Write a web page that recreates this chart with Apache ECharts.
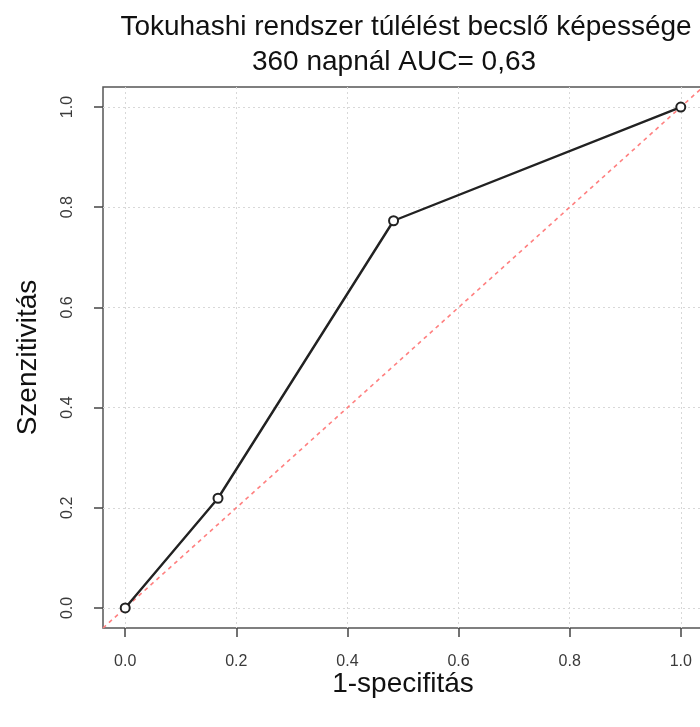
<!DOCTYPE html>
<html>
<head>
<meta charset="utf-8">
<script src="https://cdn.jsdelivr.net/npm/echarts@6/dist/echarts.min.js"></script>
<style>
  html, body { margin: 0; padding: 0; background: #fff; overflow: hidden; }
  /* canvas is slightly wider than the window so the right frame edge falls just outside */
  #chart { width: 704px; height: 727px; }
</style>
</head>
<body>
<div id="chart"></div>
<script>
// ROC curve points: 1-specificity (x) and sensitivity (y)
const fpr = [0.0, 0.167, 0.483, 1.0];
const tpr = [0.0, 0.219, 0.773, 1.0];
// Tick positions shared by both axes
const tickValues = [0.0, 0.2, 0.4, 0.6, 0.8, 1.0];
// Axis range with R-style 4% padding
const axisMin = -0.04;
const axisMax = 1.04;
// Reference diagonal (chance line) endpoints
const chanceLine = [axisMin, axisMax];

const titleMain = 'Tokuhashi rendszer túlélést becslő képessége';
const titleSub = '360 napnál AUC= 0,63';
const xName = '1-specifitás';
const yName = 'Szenzitivitás';

const chart = echarts.init(document.getElementById('chart'), null, { renderer: 'canvas' });

const fontFamily = '"Liberation Sans", Arial, sans-serif';
const titleStyle = {
  color: '#111',
  fontSize: 28,
  fontWeight: 'normal',
  fontFamily: fontFamily
};

function axisCommon() {
  return {
    type: 'value',
    min: axisMin,
    max: axisMax,
    axisLine: { show: false, onZero: false },
    axisTick: {
      show: true,
      inside: false,
      length: 9,
      customValues: tickValues,
      lineStyle: { color: '#444', width: 1.5 }
    },
    axisLabel: {
      customValues: tickValues,
      formatter: v => v.toFixed(1),
      color: '#3a3a3a',
      fontSize: 16,
      fontFamily: fontFamily
    },
    splitLine: {
      show: true,
      lineStyle: { color: '#d8d8d8', type: [2, 3], width: 1 }
    },
    nameLocation: 'middle',
    nameMoveOverlap: false,
    nameTextStyle: { color: '#111', fontSize: 28, fontFamily: fontFamily }
  };
}

const xAxis = Object.assign(axisCommon(), { name: xName, nameGap: 42 });
xAxis.axisLabel.margin = 26;
const yAxis = Object.assign(axisCommon(), { name: yName, nameGap: 61 });
yAxis.axisLabel.rotate = 90;
yAxis.axisLabel.margin = 27;

chart.setOption({
  animation: false,
  backgroundColor: '#fff',
  title: [
    { text: titleMain, left: 401, textAlign: 'center', top: 8, textStyle: titleStyle },
    { text: titleSub, left: 389, textAlign: 'center', top: 43, textStyle: titleStyle }
  ],
  grid: {
    left: 103,
    top: 87,
    width: 600,
    height: 541,
    outerBoundsMode: 'none',
    containLabel: false,
    show: true,
    borderColor: '#555',
    borderWidth: 1.5,
    backgroundColor: 'transparent'
  },
  xAxis: xAxis,
  yAxis: yAxis,
  series: [
    {
      type: 'line',
      data: [[chanceLine[0], chanceLine[0]], [chanceLine[1], chanceLine[1]]],
      showSymbol: false,
      symbol: 'none',
      lineStyle: { color: '#ff8080', width: 1.6, type: [4, 4] },
      clip: true,
      z: 2
    },
    {
      type: 'line',
      data: fpr.map((x, i) => [x, tpr[i]]),
      symbol: 'circle',
      symbolSize: 9,
      showAllSymbol: true,
      itemStyle: { color: '#fff', borderColor: '#222', borderWidth: 2 },
      lineStyle: { color: '#222', width: 2.4 },
      z: 3
    }
  ]
});
</script>
</body>
</html>
